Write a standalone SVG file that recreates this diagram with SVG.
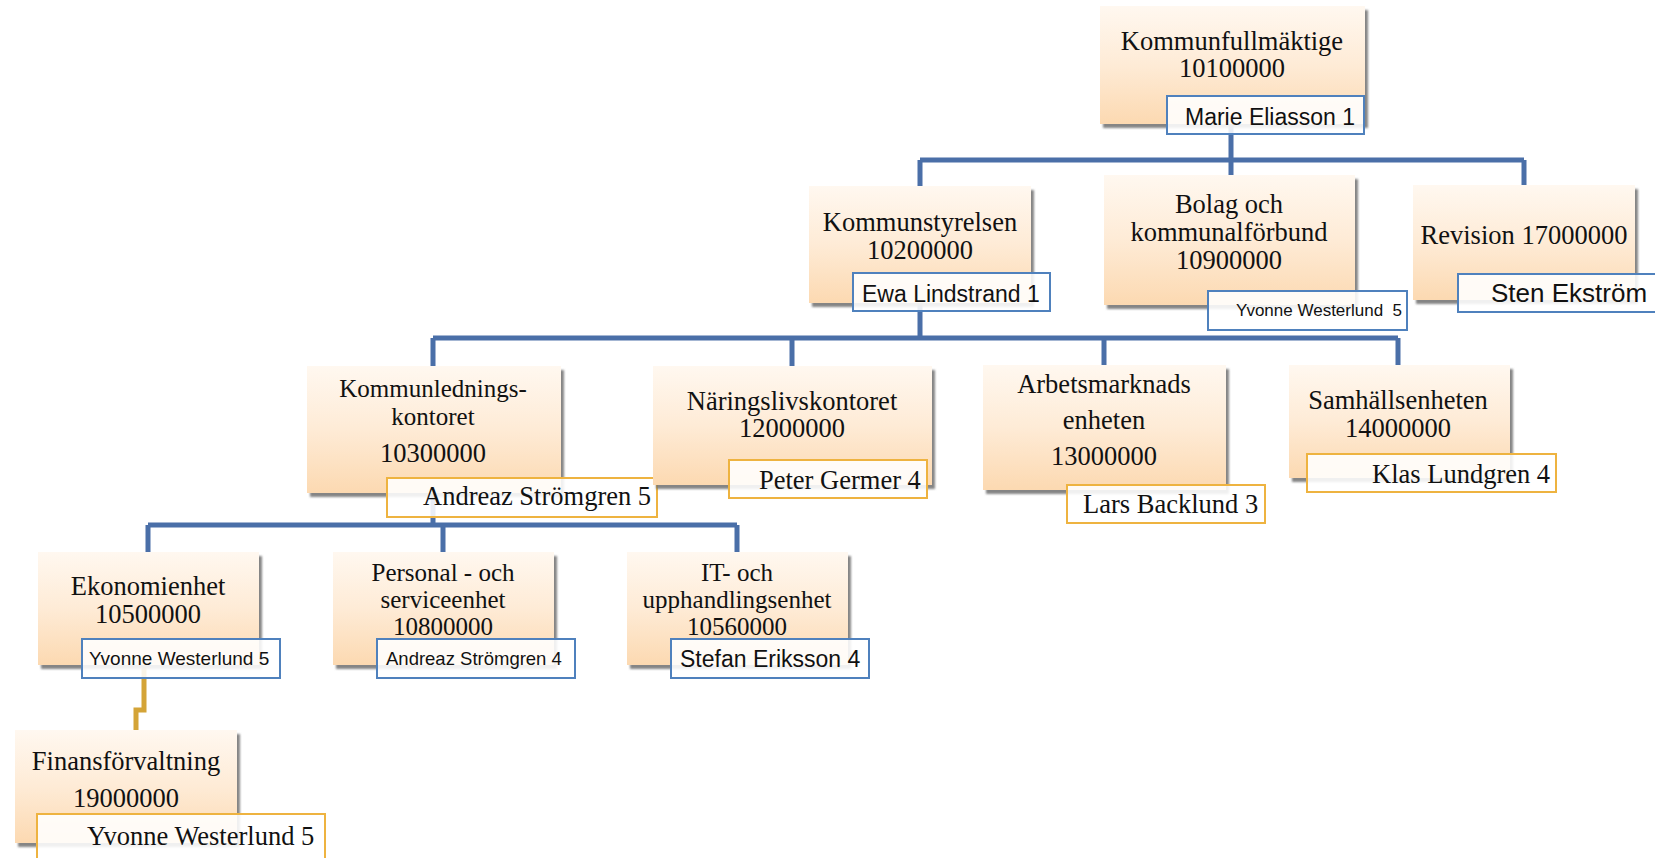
<svg xmlns="http://www.w3.org/2000/svg" width="1655" height="858" viewBox="0 0 1655 858">
<defs>
<linearGradient id="peach" x1="0" y1="0" x2="0" y2="1">
<stop offset="0" stop-color="#FFF8F0"/>
<stop offset="0.5" stop-color="#FEEBD6"/>
<stop offset="1" stop-color="#FCD9B1"/>
</linearGradient>
<filter id="sh" x="-5%" y="-5%" width="115%" height="120%">
<feDropShadow dx="3" dy="4" stdDeviation="1.2" flood-color="#6f6f6f" flood-opacity="0.85"/>
</filter>
<style>
.box{fill:url(#peach);filter:url(#sh);}
.t{font-family:"Liberation Serif","Times New Roman",serif;font-size:26.5px;fill:#111;text-anchor:middle;}
.tc{font-size:25px;}
.nb{fill:#ffffff;fill-opacity:0.88;stroke:#4F81BD;stroke-width:2;}
.no{fill:#ffffff;fill-opacity:0.88;stroke:#EEB340;stroke-width:2;}
.s{font-family:"Liberation Sans",Arial,sans-serif;fill:#111;}
.sr{font-family:"Liberation Serif","Times New Roman",serif;font-size:26.5px;fill:#111;}
.c{fill:none;stroke:#4A6FA8;stroke-width:5;}
.g{fill:none;stroke:#D4A437;stroke-width:5;}
</style>
</defs>
<rect width="1655" height="858" fill="#ffffff"/>
<g id="connectors">
<path class="c" d="M1231 124 V160 M920 160 H1524 M920 160 V186 M1231 160 V175 M1524 160 V185"/>
<path class="c" d="M920 303 V338 M433 338 H1398 M433 338 V366 M792 338 V366 M1104 338 V365 M1398 338 V365"/>
<path class="c" d="M433 493 V525 M148 525 H737 M148 525 V552 M443 525 V552 M737 525 V552"/>
<path class="g" d="M144 665 V710 H136 V730"/>
</g>
<g id="kommunfullmaktige">
<rect class="box" x="1100" y="6" width="265" height="118"/>
<text class="t" x="1232" y="50">Kommunfullmäktige</text>
<text class="t" x="1232" y="77">10100000</text>
<rect class="nb" x="1167" y="96" width="197" height="38"/>
<text class="s" x="1185" y="125" font-size="23">Marie Eliasson 1</text>
</g>
<g id="kommunstyrelsen">
<rect class="box" x="809" y="186" width="222" height="117"/>
<text class="t" x="920" y="231">Kommunstyrelsen</text>
<text class="t" x="920" y="259">10200000</text>
<rect class="nb" x="853" y="273" width="197" height="38"/>
<text class="s" x="862" y="302" font-size="23">Ewa Lindstrand 1</text>
</g>
<g id="bolag">
<rect class="box" x="1104" y="175" width="251" height="130"/>
<text class="t" x="1229" y="213">Bolag och</text>
<text class="t" x="1229" y="241">kommunalförbund</text>
<text class="t" x="1229" y="269">10900000</text>
<rect class="nb" x="1208" y="291" width="199" height="39"/>
<text class="s" x="1236" y="316" font-size="17" xml:space="preserve">Yvonne Westerlund  5</text>
</g>
<g id="revision">
<rect class="box" x="1413" y="185" width="222" height="115"/>
<text class="t" x="1524" y="244">Revision 17000000</text>
<rect class="nb" x="1458" y="274" width="210" height="38"/>
<text class="s" x="1491" y="302" font-size="26">Sten Ekström</text>
</g>
<g id="kommunledningskontoret">
<rect class="box" x="307" y="366" width="254" height="127"/>
<text class="t tc" x="433" y="397">Kommunlednings-</text>
<text class="t tc" x="433" y="425">kontoret</text>
<text class="t" x="433" y="462">10300000</text>
<rect class="no" x="387" y="478" width="270" height="39"/>
<text class="sr" x="423" y="505">Andreaz Strömgren 5</text>
</g>
<g id="naringslivskontoret">
<rect class="box" x="653" y="366" width="279" height="119"/>
<text class="t" x="792" y="410">Näringslivskontoret</text>
<text class="t" x="792" y="437">12000000</text>
<rect class="no" x="729" y="460" width="198" height="38"/>
<text class="sr" x="759" y="489">Peter Germer 4</text>
</g>
<g id="arbetsmarknadsenheten">
<rect class="box" x="983" y="365" width="243" height="125"/>
<text class="t" x="1104" y="393">Arbetsmarknads</text>
<text class="t" x="1104" y="429">enheten</text>
<text class="t" x="1104" y="465">13000000</text>
<rect class="no" x="1067" y="485" width="198" height="38"/>
<text class="sr" x="1083" y="513">Lars Backlund 3</text>
</g>
<g id="samhallsenheten">
<rect class="box" x="1289" y="365" width="221" height="113"/>
<text class="t" x="1398" y="409">Samhällsenheten</text>
<text class="t" x="1398" y="437">14000000</text>
<rect class="no" x="1307" y="454" width="249" height="38"/>
<text class="sr" x="1372" y="483">Klas Lundgren 4</text>
</g>
<g id="ekonomienhet">
<rect class="box" x="38" y="552" width="221" height="113"/>
<text class="t" x="148" y="595">Ekonomienhet</text>
<text class="t" x="148" y="623">10500000</text>
<rect class="nb" x="82" y="639" width="198" height="39"/>
<text class="s" x="89" y="665" font-size="19">Yvonne Westerlund 5</text>
</g>
<g id="personalenhet">
<rect class="box" x="333" y="552" width="221" height="113"/>
<text class="t tc" x="443" y="581">Personal - och</text>
<text class="t tc" x="443" y="608">serviceenhet</text>
<text class="t tc" x="443" y="635">10800000</text>
<rect class="nb" x="377" y="639" width="198" height="39"/>
<text class="s" x="386" y="665" font-size="18.5">Andreaz Strömgren 4</text>
</g>
<g id="itenhet">
<rect class="box" x="627" y="552" width="221" height="113"/>
<text class="t tc" x="737" y="581">IT- och</text>
<text class="t tc" x="737" y="608">upphandlingsenhet</text>
<text class="t tc" x="737" y="635">10560000</text>
<rect class="nb" x="671" y="639" width="198" height="39"/>
<text class="s" x="680" y="667" font-size="23">Stefan Eriksson 4</text>
</g>
<g id="finansforvaltning">
<rect class="box" x="15" y="730" width="222" height="113"/>
<text class="t" x="126" y="770">Finansförvaltning</text>
<text class="t" x="126" y="807">19000000</text>
<rect class="no" x="37" y="814" width="288" height="60"/>
<text class="sr" x="87" y="845">Yvonne Westerlund 5</text>
</g>
</svg>
